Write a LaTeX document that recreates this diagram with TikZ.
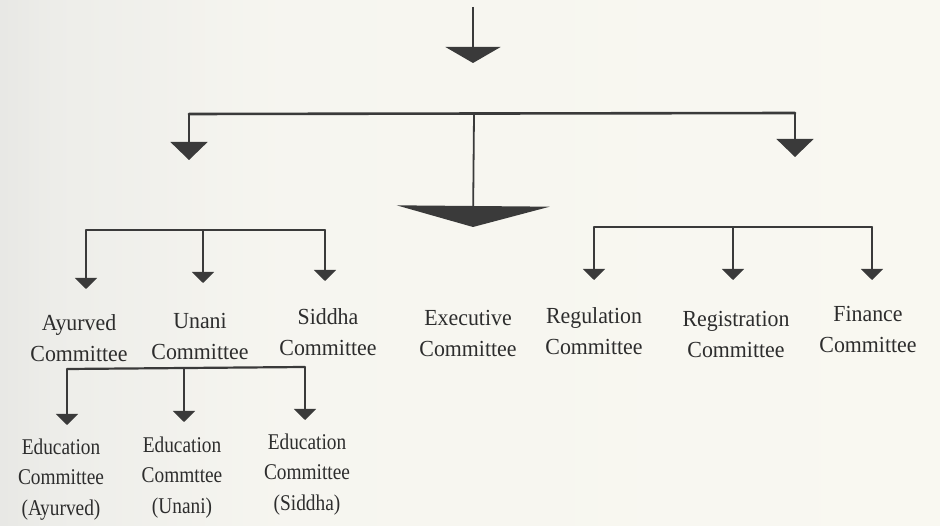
\documentclass[tikz,border=0pt]{standalone}
\usepackage{fontspec}
\setmainfont{Liberation Serif}
\newfontfamily\labfont[FakeStretch=0.95]{Liberation Serif}
\newfontfamily\labsfont[FakeStretch=0.86]{Liberation Serif}
\usetikzlibrary{arrows.meta}
\definecolor{ink}{RGB}{58,58,58}
\definecolor{txt}{RGB}{45,45,45}
\pgfdeclarehorizontalshading{paper}{100bp}{rgb(0bp)=(0.66,0.66,0.66); rgb(8bp)=(0.76,0.76,0.76); rgb(18bp)=(0.86,0.86,0.855); rgb(28bp)=(0.93,0.93,0.915); rgb(40bp)=(0.965,0.962,0.94); rgb(100bp)=(0.985,0.98,0.95)}
\tikzset{
  lab/.style={font=\labfont\fontsize{23}{31}\selectfont, align=center, anchor=base, text=txt, inner sep=0pt},
  labs/.style={lab, font=\labsfont\fontsize{22.5}{30.5}\selectfont},
  bar/.style={draw=ink, line width=2.6pt, line cap=round},
  conn/.style={draw=ink, line width=1.3pt},
  tipS/.style={conn, -{Triangle[width=22pt,length=11pt]}},
  tipM/.style={conn, -{Triangle[width=37pt,length=18pt]}},
  tipT/.style={conn, -{Triangle[width=55pt,length=16pt]}},
  tipB/.style={conn, line width=1.8pt, -{Triangle[width=153pt,length=21pt]}}
}
\begin{document}
\begin{tikzpicture}[x=1pt,y=-1pt]
\useasboundingbox (0,0) rectangle (940,526);
\shade[shading=paper] (0,0) rectangle (940,526);

% labels (anchor = baseline of the last line)
\node[lab] (ay) at (79,362) {Ayurved\\Committee};
\node[lab] (un) at (200,360) {Unani\\Committee};
\node[lab] (si) at (328,356) {Siddha\\Committee};
\node[lab] (ex) at (468,357) {Executive\\Committee};
\node[lab] (re) at (594,355) {Regulation\\Committee};
\node[lab] (rg) at (736,358) {Registration\\Committee};
\node[lab] (fi) at (868,353) {Finance\\Committee};
\node[labs] (ea) at (61,515) {Education\\Committee\\(Ayurved)};
\node[labs] (eu) at (182,513) {Education\\Commttee\\(Unani)};
\node[labs] (es) at (307,510) {Education\\Committee\\(Siddha)};

% coordinates
\coordinate (top) at (473,7);
\coordinate (topTip) at (473,63);
\coordinate (mL) at (189,114);
\coordinate (mC) at (474,114);
\coordinate (mR) at (795,113);
\coordinate (tL) at (189,160);
\coordinate (tR) at (795,157);
\coordinate (tC) at (473,227);

\coordinate (aL) at (86,230);
\coordinate (aM) at (203,230);
\coordinate (aR) at (325,230);
\coordinate (taA) at (86,289);
\coordinate (taU) at (203,283);
\coordinate (taS) at (325,281);

\coordinate (rL) at (594,227);
\coordinate (rM) at (733,227);
\coordinate (rR) at (872,227);
\coordinate (trR) at (594,280);
\coordinate (trG) at (733,280);
\coordinate (trF) at (872,280);

\coordinate (bL) at (67,369);
\coordinate (bM) at (184,368);
\coordinate (bR) at (305,367);
\coordinate (tbA) at (67,425);
\coordinate (tbU) at (184,422);
\coordinate (tbS) at (305,420);

% top level
\draw[tipT] (top) -- (topTip);
\draw[bar] (mL) -- (mR);
\draw[tipM] (mL) -- (tL);
\draw[tipM] (mR) -- (tR);
\draw[tipB] (mC) -- (tC);

% left group
\draw[bar, line width=2.2pt] (aL) -- (aR);
\draw[tipS] (aL) -- (taA);
\draw[tipS] (aM) -- (taU);
\draw[tipS] (aR) -- (taS);

% right group
\draw[bar, line width=2.2pt] (rL) -- (rR);
\draw[tipS] (rL) -- (trR);
\draw[tipS] (rM) -- (trG);
\draw[tipS] (rR) -- (trF);

% education group
\draw[bar, line width=2.2pt] (bL) -- (bR);
\draw[tipS] (bL) -- (tbA);
\draw[tipS] (bM) -- (tbU);
\draw[tipS] (bR) -- (tbS);
\end{tikzpicture}
\end{document}
